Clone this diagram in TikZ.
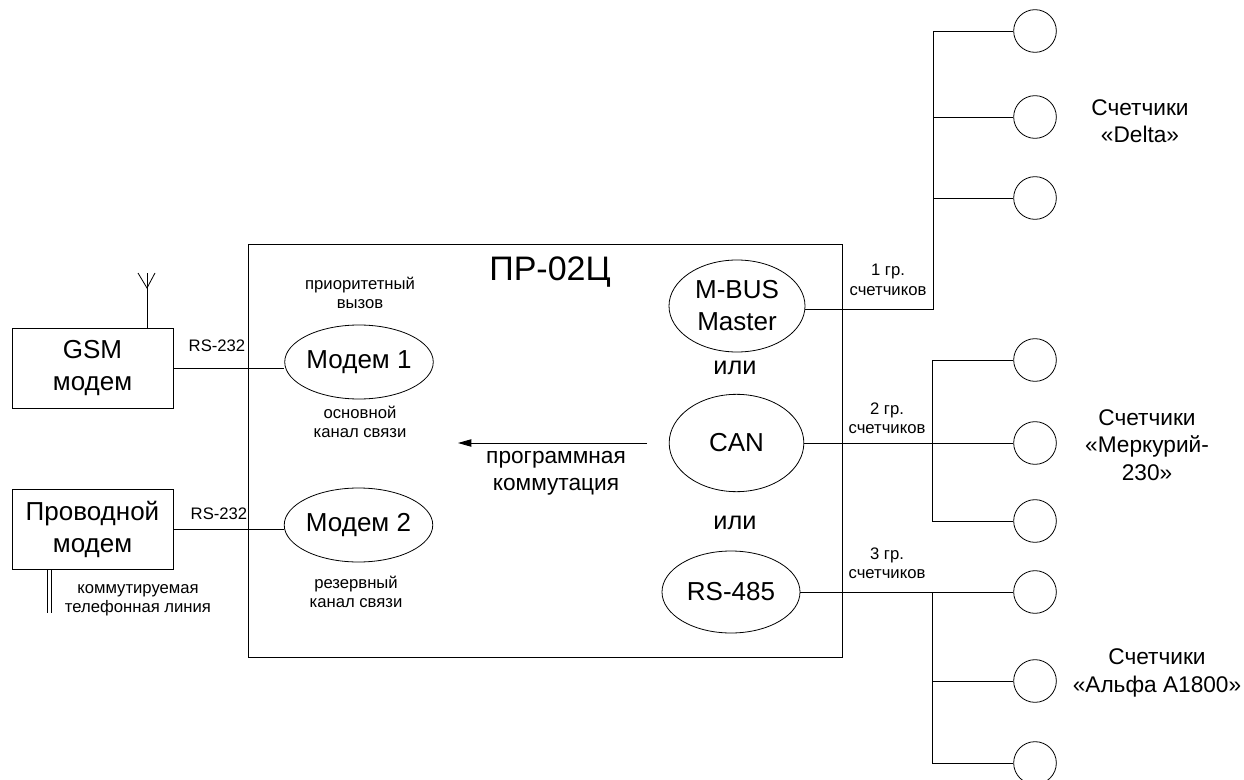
\documentclass[tikz,border=0pt]{standalone}
\usepackage{fontspec}
\setmainfont{Liberation Sans}
\usetikzlibrary{arrows.meta,positioning,shapes.geometric,calc}

\begin{document}
\begin{tikzpicture}[
  x=0.75pt,y=-0.75pt,
  line width=0.6pt,
  blk/.style={draw,minimum width=120.75pt,minimum height=60pt,align=center,font=\fontsize{19.5}{24}\selectfont,inner sep=0pt},
  oval/.style={draw,ellipse,align=center,font=\fontsize{19.5}{24}\selectfont,inner sep=0pt},
  meter/.style={draw,circle,minimum size=32pt,inner sep=0pt},
  note/.style={align=center,font=\fontsize{12.5}{14.5}\selectfont},
  big/.style={align=center,font=\fontsize{17}{20.5}\selectfont},
  arr/.style={-{Triangle[length=10pt,width=5.5pt]}}
]
\useasboundingbox (0,0) rectangle (1244,780);

% controller
\node[draw,minimum width=445.5pt,minimum height=309.75pt] (pr) at (545,450.5) {};
\node[font=\fontsize{25.5}{30}\selectfont] (title) at (550,272) {ПР-02Ц};

% modems
\node[blk] (gsm) at (92.5,368) {GSM\\модем};
\node[blk] (wire) at (92.5,529.5) {Проводной\\модем};
\node[oval,minimum width=108.75pt,minimum height=55.5pt] (mod1) at (359,362) {Модем 1};
\node[oval,minimum width=108.75pt,minimum height=55.5pt] (mod2) at (358.5,525) {Модем 2};

\node[note] (prio) at (360,293) {приоритетный\\вызов};
\node[note] (main) at (360,422) {основной\\канал связи};
\node[note] (resv) at (356,592) {резервный\\канал связи};
\node[note] (rsa) at (217,346) {RS-232};
\node[note] (rsb) at (219,514) {RS-232};
\node[note] (tel) at (138,600) {коммутируемая\\телефонная линия};

% antenna and phone line
\draw (gsm.north -| 147,0) -- (147,273);
\draw (138,273) -- (147,288) -- (155,273);
\draw (wire.south -| 47,0) -- (47,613);
\draw (wire.south -| 51,0) -- (51,613);

\draw (gsm.east) -- (gsm.east -| mod1.west);
\draw (wire.east) -- (wire.east -| mod2.west);

% interfaces
\node[oval,minimum width=102pt,minimum height=69pt] (mbus) at (737,306) {M-BUS\\Master};
\node[oval,minimum width=101pt,minimum height=73pt] (can) at (736.5,443) {CAN};
\node[oval,minimum width=103.5pt,minimum height=61.5pt] (rs) at (731,592) {RS-485};
\node[big,font=\fontsize{19}{22}\selectfont] (or1) at (735,368) {или};
\node[big,font=\fontsize{19}{22}\selectfont] (or2) at (735,523) {или};

\coordinate (swA) at (647,443);
\coordinate (swB) at (458,443);
\draw[arr] (swA) -- (swB);
\node[big] (sw) at (556,473) {программная\\коммутация};

% meters
\node[meter] (d1) at (1035,31) {};
\node[meter] (d2) at (1035,117) {};
\node[meter] (d3) at (1035,198) {};
\node[meter] (m1) at (1035,360) {};
\node[meter] (m2) at (1035,443) {};
\node[meter] (m3) at (1035,521) {};
\node[meter] (a1) at (1035,592) {};
\node[meter] (a2) at (1035,681) {};
\node[meter] (a3) at (1035,763) {};

\node[big] (dlt) at (1140,121) {Счетчики\\«Delta»};
\node[big] (mrk) at (1147,445) {Счетчики\\«Меркурий-\\230»};
\node[big] (alf) at (1157,673) {Счетчики\\«Альфа А1800»};

\node[note] (g1) at (888,280) {1 гр.\\счетчиков};
\node[note] (g2) at (887,418) {2 гр.\\счетчиков};
\node[note] (g3) at (887,563) {3 гр.\\счетчиков};

% buses
\coordinate (busD) at (933,309);
\draw (mbus.east |- busD) -- (busD) |- (d1.west);
\draw (busD |- d2.west) -- (d2.west);
\draw (busD |- d3.west) -- (d3.west);

\coordinate (busM) at (932,443);
\draw (can.east) -- (m2.west);
\draw (m1.west) -| (busM |- m3.west) -- (m3.west);

\coordinate (busA) at (932,592);
\draw (rs.east) -- (a1.west);
\draw (busA) |- (a3.west);
\draw (busA |- a2.west) -- (a2.west);
\end{tikzpicture}
\end{document}
